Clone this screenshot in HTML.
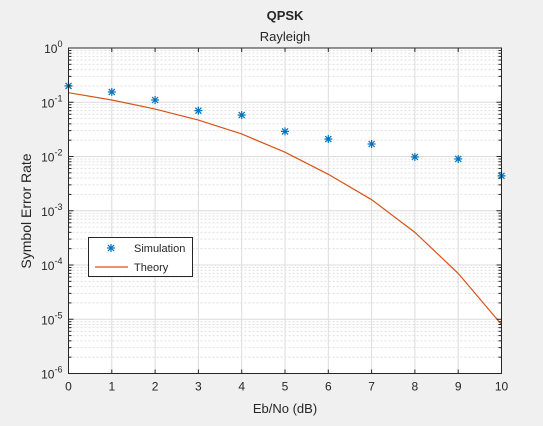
<!DOCTYPE html>
<html><head><meta charset="utf-8"><style>
body{margin:0;background:#f0f0f0;font-family:"Liberation Sans",sans-serif;}
svg text{font-family:"Liberation Sans",sans-serif;fill:#262626;}
</style></head><body>
<svg id="chart" width="543" height="421" xmlns="http://www.w3.org/2000/svg">
<rect x="0" y="0" width="543" height="421" fill="#f0f0f0"/>
<rect x="68.5" y="48" width="433" height="325.5" fill="#fff" stroke="none"/>
<g id="grid"></g>
<g id="series"></g>
<rect x="68.5" y="48" width="433" height="325.5" fill="none" stroke="#262626" stroke-width="1"/>
<g id="ticks"></g>
<text x="285" y="20" text-anchor="middle" font-size="13" font-weight="bold">QPSK</text>
<text x="285" y="41" text-anchor="middle" font-size="13">Rayleigh</text>
<text x="285" y="413" text-anchor="middle" font-size="13">Eb/No (dB)</text>
<text x="0" y="0" transform="translate(31,211) rotate(-90)" text-anchor="middle" font-size="14">Symbol Error Rate</text>
<g>
<rect x="88.5" y="237.5" width="104" height="39" fill="#fff" stroke="#262626"/>
<g>
<g id="legmark"></g>
<text x="134" y="252" font-size="11">Simulation</text>
</g>
<g>
<line x1="95" y1="267" x2="128" y2="267" stroke="#d95319" stroke-width="1.2"/>
<text x="134" y="271" font-size="11">Theory</text>
</g>
</g>
</svg>
<script>
const xValues=[0,1,2,3,4,5,6,7,8,9,10];
const simulationSER=[0.2,0.155,0.11,0.07,0.058,0.029,0.021,0.017,0.0098,0.009,0.0044];
const theorySER=[0.15,0.11,0.075,0.047,0.026,0.012,0.0047,0.0016,0.0004,0.00007,0.000008];
const xTickLabels=["0","1","2","3","4","5","6","7","8","9","10"];
const yDecades=[0,-1,-2,-3,-4,-5,-6];
const NS="http://www.w3.org/2000/svg";
const L=68.5,R=501.5,T=48,B=373.5;
const xs=v=>L+(v-0)/(10-0)*(R-L);
const ys=v=>T+(0-Math.log10(v))/6*(B-T);
function mk(t,a,p){const e=document.createElementNS(NS,t);for(const k in a)e.setAttribute(k,a[k]);p.appendChild(e);return e;}
const grid=document.getElementById('grid'),ticks=document.getElementById('ticks'),series=document.getElementById('series');
xValues.forEach((v,i)=>{
 const x=xs(v);
 const g=mk('line',{x1:x,y1:T,x2:x,y2:B,stroke:'#dcdcdc','stroke-width':1},grid);
 
 
 mk('line',{x1:x,y1:B,x2:x,y2:B-4,stroke:'#262626'},ticks);
 mk('line',{x1:x,y1:T,x2:x,y2:T+4,stroke:'#262626'},ticks);
 const t=mk('text',{x:x,y:B+17,'text-anchor':'middle','font-size':12},ticks);
 t.textContent=xTickLabels[i];
 
 
});
yDecades.forEach(d=>{
 const y=ys(Math.pow(10,d));
 const g=mk('line',{x1:L,y1:y,x2:R,y2:y,stroke:'#dcdcdc','stroke-width':1},grid);
 
 
 mk('line',{x1:L,y1:y,x2:L+5,y2:y,stroke:'#262626'},ticks);
 mk('line',{x1:R,y1:y,x2:R-5,y2:y,stroke:'#262626'},ticks);
 if(d>-6){for(let m=2;m<10;m++){const yy=ys(m*Math.pow(10,d-1));
  mk('line',{x1:L,y1:yy,x2:R,y2:yy,stroke:'#e0e0e0','stroke-dasharray':'2,2'},grid);
  mk('line',{x1:L,y1:yy,x2:L+3,y2:yy,stroke:'#262626'},ticks);
  mk('line',{x1:R,y1:yy,x2:R-3,y2:yy,stroke:'#262626'},ticks);}}
 const t=mk('text',{x:L-6,y:y+5,'text-anchor':'end','font-size':12},ticks);
 t.innerHTML='10<tspan dy="-6" font-size="9">'+d+'</tspan>';
 
 
});
const path=mk('polyline',{points:xValues.map((v,i)=>xs(v)+','+ys(theorySER[i])).join(' '),fill:'none',stroke:'#d95319','stroke-width':1.2},series);


function star(x,y,p){const g=mk('g',{stroke:'#0072bd','stroke-width':1.2},p);const r=4;
 mk('line',{x1:x-r,y1:y,x2:x+r,y2:y},g);mk('line',{x1:x,y1:y-r,x2:x,y2:y+r},g);
 mk('line',{x1:x-3,y1:y-3,x2:x+3,y2:y+3},g);mk('line',{x1:x-3,y1:y+3,x2:x+3,y2:y-3},g);return g;}
xValues.forEach((v,i)=>{
 const g=star(xs(v),ys(simulationSER[i]),series);
 
 
});
star(111,248,document.getElementById('legmark'));
</script>
</body></html>
